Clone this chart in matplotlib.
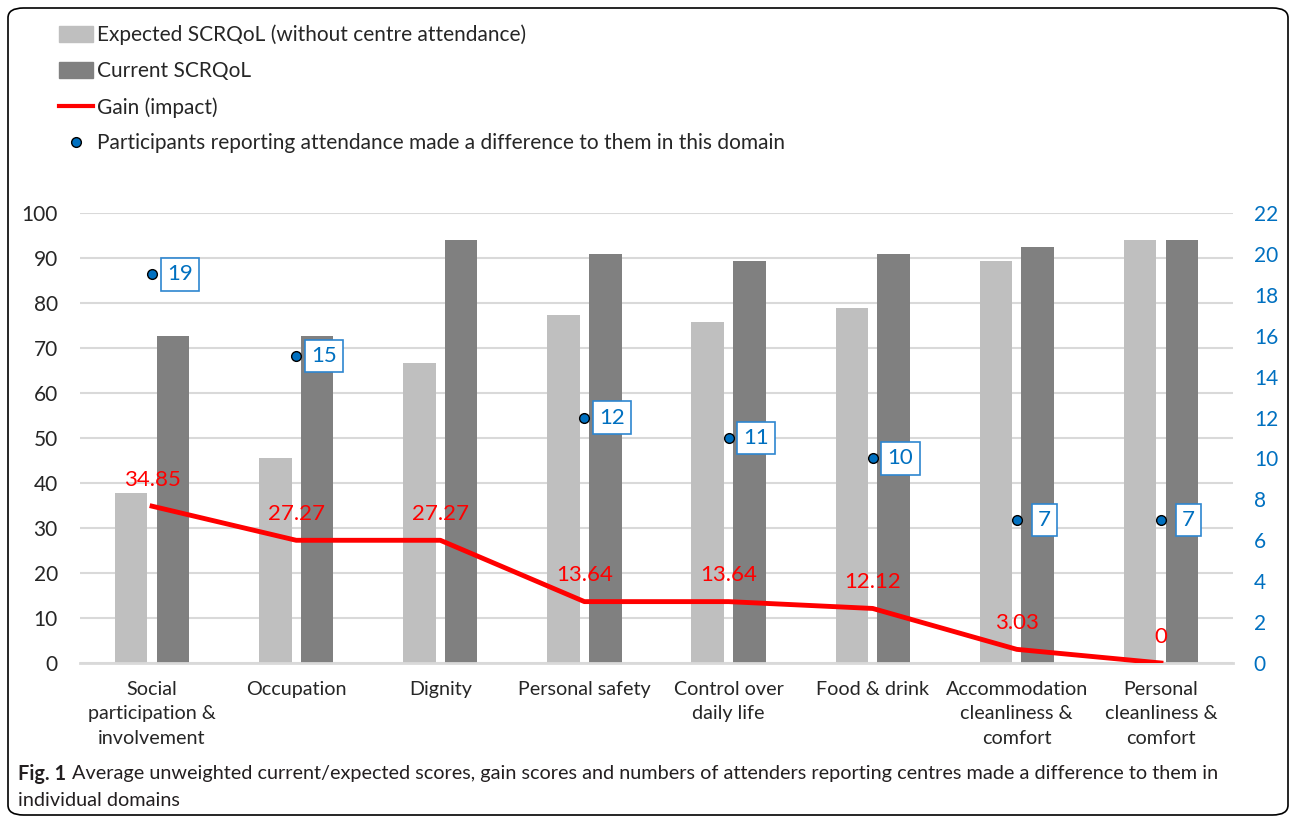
import numpy as np
import matplotlib
matplotlib.use("Agg")
import matplotlib.pyplot as plt
from matplotlib.patches import Patch, FancyBboxPatch
from matplotlib.lines import Line2D

# ----------------- Data -----------------
categories = ["Social\nparticipation &\ninvolvement", "Occupation", "Dignity",
              "Personal safety", "Control over\ndaily life", "Food & drink",
              "Accommodation\ncleanliness &\ncomfort",
              "Personal\ncleanliness &\ncomfort"]
expected = [37.88, 45.45, 66.67, 77.27, 75.76, 78.79, 89.39, 93.94]
current = [72.73, 72.73, 93.94, 90.91, 89.39, 90.91, 92.42, 93.94]
gain = [34.85, 27.27, 27.27, 13.64, 13.64, 12.12, 3.03, 0]
participants = [19, 15, np.nan, 12, 11, 10, 7, 7]

# ----------------- Style -----------------
plt.rcParams['font.family'] = ['Lato', 'DejaVu Sans']
GRID = '#d9d9d9'
BLUE = '#0070C0'
TXT = '#262626'

fig = plt.figure(figsize=(12.92, 8.18), dpi=100)
ax = fig.add_axes([80 / 1292, 1 - 663 / 818, 1153 / 1292, 450 / 818])
ax2 = ax.twinx()

x = np.arange(len(categories))
w = 0.225
ax.bar(x - 0.145, expected, w, color='#BFBFBF', zorder=2)
ax.bar(x + 0.145, current, w, color='#808080', zorder=2)
ax.plot(x, gain, color='red', lw=3.5, zorder=3, solid_joinstyle='round')
for xi, g in zip(x, gain):
    ax.annotate(f"{g:g}", (xi, g), xytext=(0, 19), textcoords='offset points',
                ha='center', va='center', color='red', fontsize=16, zorder=4)

ax.set_xlim(-0.5, len(categories) - 0.5)
ax.set_ylim(0, 100)
ax.set_yticks(range(0, 101, 10))
ax.set_xticks(x)
ax.set_xticklabels(categories, fontsize=14.2, color=TXT, linespacing=1.52)
ax.tick_params(axis='y', length=0, pad=16, labelsize=15, labelcolor=TXT)
ax.tick_params(axis='x', length=0, pad=13)
ax.grid(axis='y', color=GRID, lw=1.5, zorder=0)
ax.set_axisbelow(True)
for s in ['top', 'left', 'right']:
    ax.spines[s].set_visible(False)
ax.spines['bottom'].set_color(GRID)
ax.spines['bottom'].set_linewidth(2)

# participants on secondary axis
ax2.plot(x, participants, 'o', ms=7, mfc=BLUE, mec='black', mew=1, zorder=5)
for xi, p in zip(x, participants):
    if np.isnan(p):
        continue
    ax2.annotate(f"{p:g}", (xi, p), xytext=(20, 0), textcoords='offset points',
                 ha='center', va='center', color=BLUE, fontsize=16,
                 bbox=dict(boxstyle='square,pad=0.28', fc='white', ec='#2E86D0', lw=1.2))
ax2.set_ylim(0, 22)
ax2.set_yticks(range(0, 23, 2))
ax2.tick_params(axis='y', length=0, pad=15, labelsize=15, labelcolor=BLUE)
for s in ax2.spines.values():
    s.set_visible(False)

# ----------------- Legend -----------------
handles = [Patch(color='#BFBFBF'), Patch(color='#808080'),
           Line2D([], [], color='red', lw=3),
           Line2D([], [], ls='none', marker='o', ms=7, mfc=BLUE, mec='black')]
labels = ["Expected SCRQoL (without centre attendance)", "Current SCRQoL",
          "Gain (impact)",
          "Participants reporting attendance made a difference to them in this domain"]
fig.legend(handles, labels, loc='upper left', bbox_to_anchor=(40 / 1292, 1 - 6 / 818),
           frameon=False, fontsize=15, handlelength=1.65, handleheight=0.75,
           handletextpad=0.2, labelspacing=0.76, labelcolor=TXT)

# ----------------- Frame & caption -----------------
frame = FancyBboxPatch((8 / 1292, 3 / 818), 1280 / 1292, 807 / 818,
                       boxstyle='round,pad=0,rounding_size=0.012',
                       transform=fig.transFigure, fill=False, ec='black', lw=1.2)
fig.patches.append(frame)
fig.text(18 / 1292, 1 - 774 / 818, "Fig. 1", fontsize=14.3, fontweight='bold',
         va='center', color='#231f20')
fig.text(72 / 1292, 1 - 774 / 818,
         "Average unweighted current/expected scores, gain scores and numbers of attenders "
         "reporting centres made a difference to them in",
         fontsize=14.3, va='center', color='#231f20')
fig.text(18 / 1292, 1 - 800 / 818, "individual domains", fontsize=14.3,
         va='center', color='#231f20')

fig.savefig('out.png', dpi=100)
